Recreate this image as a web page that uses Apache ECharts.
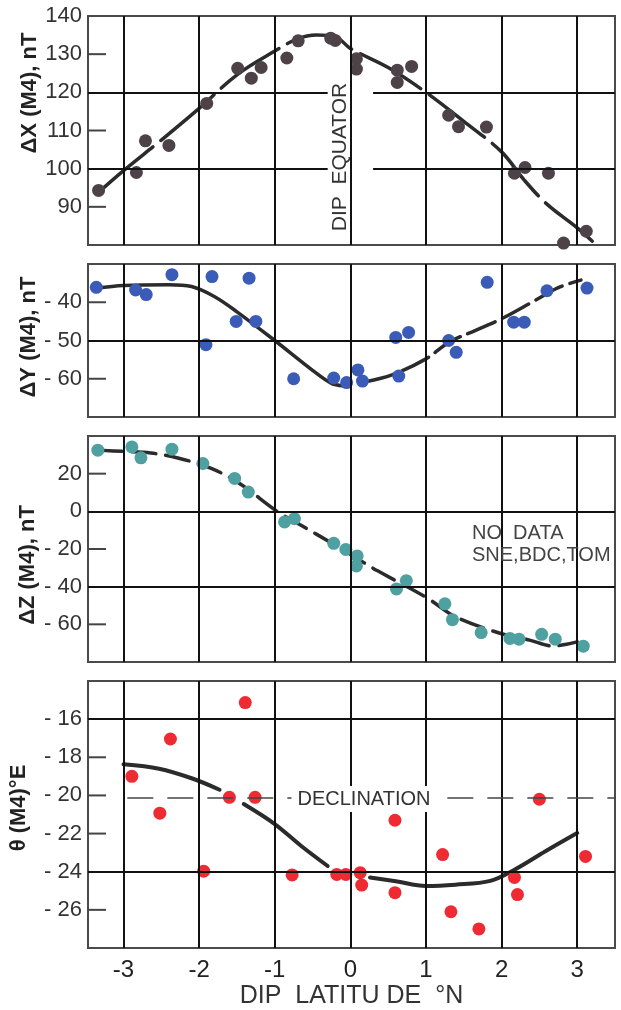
<!DOCTYPE html>
<html>
<head>
<meta charset="utf-8">
<script src="https://cdn.jsdelivr.net/npm/echarts@6/dist/echarts.min.js"></script>
<style>
  html, body { margin: 0; padding: 0; background: #fff; }
  #chart { width: 621px; height: 1010px; }
</style>
</head>
<body>
<div id="chart"></div>
<script>
// dip latitude ticks and range
const xTicks = [-3, -2, -1, 0, 1, 2, 3];
const xMin = -3.47, xMax = 3.5;

// ΔX (M4), nT
const dxPoints = [[-3.33, 94.3], [-2.83, 99], [-2.71, 107.3], [-2.4, 106.1], [-1.9, 117.1],
  [-1.49, 126.3], [-1.31, 123.7], [-1.18, 126.5], [-0.84, 129], [-0.69, 133.5], [-0.26, 134.2],
  [-0.2, 133.6], [0.08, 128.8], [0.08, 126.1], [0.62, 125.8], [0.62, 122.6], [0.81, 126.8],
  [1.3, 114], [1.43, 111], [1.8, 110.9], [2.17, 98.8], [2.31, 100.3], [2.62, 98.8],
  [2.82, 80.5], [3.12, 83.6]];
const dxCurve = [[-3.32, 94], [-3, 99.5], [-2.5, 107.5], [-2, 115.8], [-1.5, 124.6], [-1, 130.8],
  [-0.7, 134], [-0.45, 135], [-0.2, 134.6], [0, 131.5], [0.5, 126.5], [1, 120], [1.5, 112.4],
  [2, 104.4], [2.3, 97], [2.6, 90.7], [3, 84.5], [3.2, 81]];

// ΔY (M4), nT
const dyPoints = [[-3.36, -36.1], [-2.84, -36.8], [-2.7, -38], [-2.36, -32.8], [-1.91, -51.1],
  [-1.83, -33.3], [-1.51, -45], [-1.34, -33.7], [-1.25, -45], [-0.75, -60], [-0.22, -59.8],
  [-0.05, -61], [0.1, -57.7], [0.16, -60.6], [0.6, -49.2], [0.77, -47.9], [0.64, -59.3],
  [1.3, -50], [1.4, -53.1], [1.81, -34.8], [2.16, -45.2], [2.3, -45.2], [2.6, -37], [3.13, -36.3]];
const dyCurveSolid = [[-3.36, -36.3], [-3, -35.6], [-2.4, -35.4], [-2.1, -35.9], [-1.8, -38.5],
  [-1.5, -42.5], [-1, -50], [-0.5, -57.8], [-0.25, -61.2], [-0.1, -61.8]];
const dyCurveDashed = [[0.2, -60.8], [0.55, -59], [1, -54.8], [1.3, -50.5], [1.65, -47.4],
  [2, -44.3], [2.4, -40], [2.75, -36.2], [3.05, -34.2]];

// ΔZ (M4), nT
const dzPoints = [[-3.34, 32.5], [-2.89, 34.2], [-2.77, 28.4], [-2.36, 33], [-1.95, 25.4],
  [-1.53, 17.5], [-1.35, 10.2], [-0.87, -5.6], [-0.74, -3.9], [-0.22, -17], [-0.06, -20.2],
  [0.09, -23.7], [0.08, -29], [0.61, -41.2], [0.74, -36.8], [1.25, -49.1], [1.35, -57.5],
  [1.73, -64.4], [2.11, -67.5], [2.23, -67.9], [2.53, -65.3], [2.71, -67.9], [3.08, -71.6]];
const dzCurve = [[-3.34, 32.5], [-3, 31.8], [-2.64, 31], [-2.27, 28.2], [-1.84, 22.8],
  [-1.47, 14.9], [-0.97, 0], [-0.67, -7], [-0.22, -17.5], [0, -22.8], [0.36, -31.6],
  [1, -45.6], [1.39, -56], [2, -65], [2.37, -68.4], [2.68, -71.5], [3, -69.3]];

// θ (M4) °E
const thetaPoints = [[-2.89, -19], [-2.52, -20.93], [-2.38, -17.04], [-1.94, -23.97],
  [-1.6, -20.1], [-1.39, -15.13], [-1.26, -20.1], [-0.77, -24.17], [-0.18, -24.14],
  [-0.06, -24.14], [0.13, -24.05], [0.15, -24.7], [0.59, -21.3], [0.59, -25.1], [1.22, -23.1],
  [1.33, -26.1], [1.7, -27], [2.17, -24.3], [2.21, -25.2], [2.5, -20.2], [3.11, -23.2]];
const thetaCurveA = [[-3, -18.37], [-2.53, -18.6], [-2.1, -19.1], [-1.73, -19.7]];
const thetaCurveB = [[-1.41, -20.45], [-1, -21.5], [-0.65, -22.65], [-0.3, -23.7]];
const thetaCurveC = [[0.26, -24.3], [0.6, -24.5], [1, -24.75], [1.39, -24.68], [1.85, -24.48],
  [2.17, -23.9], [2.58, -22.93], [3, -21.97]];
const declination = -20.1;

// y axes: [min, max, interval], gridline values and short tick marks
const yRanges = [[80, 140, 10], [-70, -30, 10], [-80, 40, 20], [-28, -14, 2]];
const yGridValues = [[100, 120], [-50], [-40, 0], [-24, -16]];
const yTickValues = [[90, 110, 130], [-60, -40], [-60, -20, 20], [-26, -22, -20, -18]];
const yNames = ['ΔX (M4), nT', 'ΔY (M4), nT', 'ΔZ (M4), nT', 'θ (M4)°E'];

const sans = "'Liberation Sans', Arial, sans-serif";
const curveColor = '#2b2b2b';
const frameColor = '#4a4a4a';

const layout = [
  { top: 16, height: 229 },
  { top: 264, height: 153 },
  { top: 436, height: 226 },
  { top: 681, height: 267 }
];

const fmt = v => (v < 0 ? '- ' + (-v) : String(v));

const grid = layout.map(l => ({
  left: 88, right: 6, top: l.top, height: l.height,
  show: true, borderColor: frameColor, borderWidth: 2
}));

const xAxis = layout.map((l, i) => ({
  type: 'value', gridIndex: i, min: xMin, max: xMax,
  axisLine: { show: false, onZero: false }, axisTick: { show: false }, splitLine: { show: false },
  axisLabel: {
    show: i === 3, customValues: xTicks, margin: 10,
    fontSize: 24, color: '#222', fontFamily: sans,
    formatter: v => (v < 0 ? '-' + (-v) : String(v))
  },
  name: i === 3 ? 'DIP  LATITU DE  °N' : '',
  nameLocation: 'middle', nameGap: 36,
  nameTextStyle: { fontSize: 25, color: '#333', fontFamily: sans }
}));

const yAxis = yRanges.map((r, i) => ({
  type: 'value', gridIndex: i, min: r[0], max: r[1], interval: r[2],
  axisLine: { show: false, onZero: false },
  axisTick: { show: false },
  splitLine: { show: false },
  axisLabel: {
    showMinLabel: false, showMaxLabel: i === 0, margin: 6,
    fontSize: 22, color: '#333', fontFamily: sans, formatter: fmt
  }
}));

// gridlines: vertical at each integer latitude, horizontal at chosen values
function gridLines(i) {
  const data = xTicks.map(v => ({ xAxis: v }));
  yGridValues[i].forEach(v => {
    if (i === 0) {
      // gap around the DIP EQUATOR label
      data.push([{ coord: [xMin, v] }, { coord: [-0.3, v] }]);
      data.push([{ coord: [0.3, v] }, { coord: [xMax, v] }]);
    } else {
      data.push({ yAxis: v });
    }
  });
  return {
    type: 'line', xAxisIndex: i, yAxisIndex: i, data: [], z: 1, silent: true,
    markLine: {
      symbol: ['none', 'none'], silent: true, animation: false,
      label: { show: false }, emphasis: { disabled: true },
      lineStyle: { color: '#111', width: 2, type: 'solid' },
      data: data
    }
  };
}

function curve(i, data, dash, width) {
  return {
    type: 'line', xAxisIndex: i, yAxisIndex: i, data: data, smooth: 0.35,
    symbol: 'none', z: 3, silent: true,
    lineStyle: { color: curveColor, width: width || 3.5, type: dash || 'solid', cap: 'round' }
  };
}

function dots(i, data, color) {
  return {
    type: 'scatter', xAxisIndex: i, yAxisIndex: i, data: data, symbolSize: 13, z: 4,
    itemStyle: { color: color, opacity: 1 }
  };
}

const series = [
  gridLines(0), gridLines(1), gridLines(2), gridLines(3),
  {
    type: 'line', xAxisIndex: 3, yAxisIndex: 3, data: [], z: 2, silent: true,
    markLine: {
      symbol: ['none', 'none'], silent: true, animation: false, label: { show: false },
      lineStyle: { color: '#444', width: 1.5, type: [26, 14] },
      data: [[{ coord: [-2.95, declination] }, { coord: [xMax, declination] }]]
    }
  },
  curve(0, dxCurve, [70, 10]),
  curve(1, dyCurveSolid),
  curve(1, dyCurveDashed, [30, 8]),
  curve(2, dzCurve, [24, 10]),
  curve(3, thetaCurveA, 'solid', 4),
  curve(3, thetaCurveB, 'solid', 4),
  curve(3, thetaCurveC, 'solid', 4),
  dots(0, dxPoints, '#4d4248'),
  dots(1, dyPoints, '#3a5bb8'),
  dots(2, dzPoints, '#4fa0a0'),
  dots(3, thetaPoints, '#ee2a33')
];

const nameCenters = [[30, 93], [29, 337], [28, 565], [19, 808]];
const graphic = yNames.map((n, i) => ({
  type: 'text', x: nameCenters[i][0], y: nameCenters[i][1], rotation: Math.PI / 2,
  style: {
    text: n, fontSize: 22, fontWeight: 'bold', fill: '#222', fontFamily: sans,
    align: 'center', verticalAlign: 'middle'
  }
}));
graphic.push({
  type: 'text', x: 340, y: 157, rotation: Math.PI / 2, z: 10,
  style: {
    text: 'DIP  EQUATOR', fontSize: 21, fill: '#333', fontFamily: sans,
    align: 'center', verticalAlign: 'middle'
  }
});
graphic.push({
  type: 'text', x: 472, y: 522, z: 10,
  style: {
    text: 'NO  DATA\nSNE,BDC,TOM', fontSize: 20, lineHeight: 22, fill: '#444',
    fontFamily: sans
  }
});
graphic.push({
  type: 'text', x: 364, y: 799, z: 10,
  style: {
    text: 'DECLINATION', fontSize: 20, fill: '#333', fontFamily: sans,
    align: 'center', verticalAlign: 'middle',
    backgroundColor: '#fff', padding: [3, 6]
  }
});

const chart = echarts.init(document.getElementById('chart'));
chart.setOption({
  animation: false,
  backgroundColor: '#fff',
  grid: grid,
  xAxis: xAxis,
  yAxis: yAxis,
  series: series,
  graphic: graphic
});

// short inward ticks on the left frame, placed through each grid's scales
const ticks = [];
yTickValues.forEach((vals, i) => {
  vals.forEach(v => {
    const p = chart.convertToPixel({ gridIndex: i }, [xMin, v]);
    ticks.push({
      type: 'line', z: 5, silent: true,
      shape: { x1: p[0], y1: p[1], x2: p[0] + 18, y2: p[1] },
      style: { stroke: '#444', lineWidth: 2 }
    });
  });
});
chart.setOption({ graphic: graphic.concat(ticks) });
</script>
</body>
</html>
